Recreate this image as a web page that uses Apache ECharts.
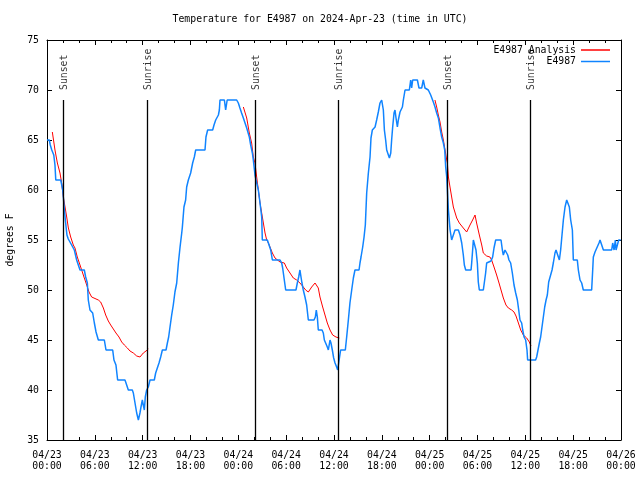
<!DOCTYPE html>
<html>
<head>
<meta charset="utf-8">
<script src="https://cdn.jsdelivr.net/npm/echarts@6/dist/echarts.min.js"></script>
<style>html,body{margin:0;padding:0;background:#fff}#c{width:640px;height:480px}</style>
</head>
<body>
<div id="c"></div>
<script>
// Hours since 2024-04-23 00:00 UTC
const obsHours = [0.00,0.29,0.41,0.60,0.85,1.00,1.10,1.72,1.85,1.97,2.05,2.15,2.30,2.50,2.67,3.09,3.43,3.72,3.93,4.14,4.68,4.85,5.06,5.18,5.39,5.73,5.94,6.15,6.44,7.19,7.40,8.24,8.40,8.65,8.86,9.78,9.91,10.20,10.70,10.83,11.04,11.25,11.46,11.66,11.79,11.96,12.08,12.21,12.33,12.50,12.71,12.92,13.46,13.63,13.84,14.05,14.26,14.47,14.93,15.10,15.26,15.43,15.64,15.84,16.05,16.27,16.48,16.69,16.90,16.98,17.18,17.39,17.52,17.73,18.02,18.27,18.48,18.65,19.82,19.94,20.15,20.78,20.95,21.16,21.50,21.62,21.70,22.25,22.41,22.60,23.79,24.00,24.20,24.41,24.63,24.84,25.05,25.25,25.38,25.55,25.76,25.88,26.09,26.22,26.51,26.72,26.93,27.01,27.64,27.77,27.89,28.06,28.27,29.23,29.44,29.56,29.73,29.94,31.23,31.40,31.57,31.73,31.86,31.98,32.15,32.36,32.57,32.78,33.49,33.66,33.78,33.91,34.03,34.50,34.66,34.79,34.95,35.16,35.29,35.50,35.62,35.79,35.96,36.13,36.33,36.46,36.67,36.83,37.42,37.59,37.80,38.00,38.22,38.43,38.63,39.14,39.26,39.39,39.60,39.77,39.93,40.10,40.31,40.52,40.64,40.81,41.02,41.15,41.35,41.56,41.77,41.98,42.19,42.32,42.48,42.61,42.82,42.95,43.12,43.23,43.36,43.53,43.65,43.78,43.95,44.07,44.28,44.58,44.70,44.91,45.45,45.62,45.74,45.87,46.04,46.46,46.66,47.00,47.20,47.41,47.83,48.13,48.46,48.67,48.88,49.09,49.30,49.51,49.72,49.89,50.01,50.14,50.35,50.56,50.76,50.97,51.18,51.60,51.81,52.02,52.22,52.35,52.52,53.19,53.27,53.39,53.48,53.69,53.81,53.98,54.10,54.23,54.73,54.85,55.02,55.15,55.27,55.69,55.90,56.07,56.28,56.95,57.12,57.24,57.45,57.66,57.79,57.95,58.16,58.37,58.58,58.79,59.00,59.17,59.33,59.54,59.67,59.84,60.04,60.21,60.29,61.29,61.42,61.59,61.76,61.92,62.09,62.26,62.43,62.60,62.76,62.93,63.10,63.35,63.51,63.72,63.85,64.06,64.27,64.43,64.56,64.77,64.98,65.19,65.31,65.52,65.69,65.90,66.02,66.52,66.65,66.86,67.07,67.27,68.32,68.45,68.53,68.74,68.95,69.24,69.37,69.58,69.79,70.83,70.96,71.13,71.29,71.38,71.59,71.71,71.96];
const obsValues = [65.0,65.0,64.5,64.0,63.5,62.5,61.0,61.0,60.5,60.0,59.3,58.3,57.0,55.5,55.1,54.5,54.0,53.0,52.5,52.0,52.0,51.3,50.7,49.0,48.0,47.7,46.7,45.8,45.0,45.0,44.0,44.0,43.0,42.5,41.0,41.0,40.7,40.0,40.0,39.7,38.7,37.7,37.0,37.7,38.3,39.0,38.5,38.0,39.3,40.0,40.3,41.0,41.0,41.7,42.2,42.7,43.3,44.0,44.0,44.7,45.3,46.3,47.5,48.5,49.8,50.7,52.7,54.3,55.7,56.3,58.3,59.0,60.3,61.0,61.7,62.7,63.3,64.0,64.0,65.3,66.0,66.0,66.5,67.0,67.5,68.0,69.0,69.0,68.0,69.0,69.0,68.7,68.2,67.7,67.2,66.7,66.2,66.0,65.3,64.5,63.7,63.0,61.5,61.0,60.0,58.7,57.3,55.0,55.0,54.7,54.6,54.0,53.0,53.0,52.7,52.2,52.0,50.0,50.0,50.7,51.3,52.0,51.3,50.7,50.0,49.3,48.5,47.0,47.0,47.3,48.0,47.3,46.0,46.0,45.7,45.0,44.7,44.3,44.0,45.0,44.7,44.0,43.2,42.7,42.3,42.0,42.0,44.0,44.0,45.3,47.0,48.7,50.0,51.2,52.0,52.0,52.7,53.3,54.3,55.3,56.5,59.7,61.7,63.3,65.2,66.0,66.0,66.3,67.0,67.8,68.7,69.0,68.0,66.0,65.0,64.0,63.5,63.2,63.7,65.0,66.3,67.7,68.0,67.2,66.3,67.0,67.8,68.3,69.0,70.0,70.0,71.0,70.2,71.0,71.0,71.0,70.2,70.2,71.0,70.2,70.0,69.5,68.8,68.3,67.7,67.2,66.2,65.3,64.7,64.0,62.3,61.3,58.0,56.0,55.0,55.5,56.0,56.0,55.5,54.7,53.5,52.5,52.0,52.0,52.7,54.0,55.0,55.0,54.0,52.7,50.8,50.0,50.0,50.7,51.7,52.7,52.9,52.9,53.3,54.2,55.0,55.0,54.0,53.5,54.0,54.0,53.5,53.0,52.7,51.7,50.5,49.7,49.0,48.0,47.0,46.7,46.0,45.3,45.0,44.0,43.0,43.0,43.3,44.0,44.7,45.3,46.3,47.3,48.3,49.0,49.5,50.8,51.0,52.0,52.7,53.7,54.0,53.5,53.0,54.0,54.0,57.0,58.3,59.0,59.1,58.3,57.0,56.0,53.0,53.0,52.0,51.0,50.7,50.0,50.0,52.0,53.3,53.8,54.0,54.7,55.0,54.5,54.0,54.0,54.7,54.0,55.0,54.0,54.0,55.0,55.0];

// Analysis (null = gap)
const anaHours = [0.67,1.00,1.30,1.63,1.84,2.05,2.26,2.47,2.68,2.97,3.30,3.51,3.80,4.14,4.43,4.68,4.98,5.27,5.60,5.81,6.44,6.73,7.07,7.36,7.69,7.99,8.32,8.65,9.03,9.37,9.70,10.08,10.41,10.83,11.25,11.66,12.08,12.42,12.71,
  18.0,
  24.63,25.05,25.38,25.67,25.88,26.09,26.30,26.51,26.72,26.93,27.14,27.35,27.56,27.77,27.97,28.27,28.60,29.23,29.77,30.06,30.48,30.90,31.32,31.73,32.15,32.44,32.78,33.20,33.62,33.82,34.03,34.24,34.58,34.87,35.16,35.50,35.83,36.25,36.67,
  42.0,
  48.66,48.88,49.09,49.30,49.51,49.72,49.93,50.14,50.22,50.35,50.55,50.76,50.97,51.39,51.72,52.22,52.64,53.06,53.39,53.69,53.89,54.23,54.53,54.73,55.15,55.56,55.77,56.07,56.40,56.70,56.95,57.24,57.57,57.87,58.29,58.58,58.83,59.13,59.42,59.75,60.17,60.50,60.71];
const anaValues = [65.8,64.0,62.7,61.7,60.7,59.3,58.3,57.3,56.2,55.3,54.5,54.2,53.3,52.5,51.8,51.2,50.5,49.8,49.3,49.1,49.0,48.8,48.2,47.5,46.9,46.5,46.1,45.7,45.3,44.8,44.5,44.2,43.9,43.7,43.4,43.3,43.7,43.9,44.1,
  null,
  68.3,67.2,65.7,64.7,63.3,62.7,61.3,60.0,58.7,57.7,56.7,55.7,55.0,54.7,54.3,53.7,53.2,52.8,52.7,52.2,51.7,51.2,51.0,50.7,50.3,50.0,49.8,50.3,50.7,50.8,50.2,49.3,48.3,47.5,46.7,46.0,45.5,45.3,45.2,
  null,
  69.0,68.3,67.5,66.8,65.8,65.0,64.0,63.0,62.7,61.3,60.3,59.3,58.3,57.2,56.7,56.2,55.8,56.5,57.0,57.5,56.7,55.5,54.5,53.7,53.4,53.3,53.0,52.3,51.5,50.7,50.0,49.2,48.5,48.2,48.0,47.8,47.4,46.7,46.0,45.5,45.2,44.8,44.4];

const eventNames = ['Sunset','Sunrise','Sunset','Sunrise','Sunset','Sunrise'];
const eventHours = [2.04,12.58,26.13,36.54,50.21,60.62];
const eventLineTop = 69;
const eventLabelAt = 70;

const yTicks = [35,40,45,50,55,60,65,70,75];
const startMonth = '04';
const startDay = 23;

const FONT = 'DejaVu Sans Mono';
const FS = 9.8;

function fmtX(v) {
  const day = startDay + Math.floor(v / 24);
  const h = v % 24;
  return startMonth + '/' + day + '\n' + (h < 10 ? '0' + h : h) + ':00';
}

const obsData = obsHours.map((h, i) => [h, obsValues[i]]);
const anaData = anaHours.map((h, i) => [h, anaValues[i]]);
const eventData = eventHours.map((h, i) => ({ name: eventNames[i], value: [h, eventLabelAt] }));
const eventLines = eventHours.map(h => [{ coord: [h, 35] }, { coord: [h, eventLineTop] }]);

const chart = echarts.init(document.getElementById('c'), null, { renderer: 'canvas' });
const axisCommon = {
  axisLine: { show: true, onZero: false, lineStyle: { color: '#000', width: 1 } },
  splitLine: { show: false }
};
chart.setOption({
  animation: false,
  backgroundColor: '#fff',
  title: {
    text: 'Temperature for E4987 on 2024-Apr-23 (time in UTC)',
    left: 'center', top: 14, padding: 0,
    textStyle: { fontFamily: FONT, fontSize: FS, fontWeight: 'normal', color: '#000' }
  },
  legend: [
    { data: ['E4987 Analysis'], right: 30, top: 45, padding: 0, align: 'right', icon: 'rect',
      itemWidth: 29, itemHeight: 1.5, textStyle: { fontFamily: FONT, fontSize: FS, color: '#000' } },
    { data: ['E4987'], right: 30, top: 56.5, padding: 0, align: 'right', icon: 'rect',
      itemWidth: 29, itemHeight: 1.5, textStyle: { fontFamily: FONT, fontSize: FS, color: '#000' } }
  ],
  grid: { left: 47, right: 19, top: 40, bottom: 40, containLabel: false, outerBoundsMode: 'none' },
  xAxis: [
    Object.assign({}, axisCommon, {
      type: 'value', min: 0, max: 72, interval: 6, position: 'bottom',
      axisTick: { show: true, inside: true, length: 5, lineStyle: { color: '#000' } },
      minorTick: { show: true, splitNumber: 3, length: 3, lineStyle: { color: '#000' } },
      axisLabel: { formatter: fmtX, fontFamily: FONT, fontSize: FS, color: '#000', lineHeight: 11, margin: 10 }
    }),
    Object.assign({}, axisCommon, {
      type: 'value', min: 0, max: 72, interval: 6, position: 'top',
      axisTick: { show: true, inside: true, length: 5, lineStyle: { color: '#000' } },
      minorTick: { show: true, splitNumber: 3, length: 3, lineStyle: { color: '#000' } },
      axisLabel: { show: false }
    })
  ],
  yAxis: [
    Object.assign({}, axisCommon, {
      type: 'value', min: yTicks[0], max: yTicks[yTicks.length - 1], interval: 5, position: 'left',
      name: 'degrees F', nameLocation: 'middle', nameGap: 32, nameRotate: 90,
      nameTextStyle: { fontFamily: FONT, fontSize: FS, color: '#000' },
      axisTick: { show: true, inside: true, length: 5, lineStyle: { color: '#000' } },
      axisLabel: { fontFamily: FONT, fontSize: FS, color: '#000', margin: 8 }
    }),
    Object.assign({}, axisCommon, {
      type: 'value', min: yTicks[0], max: yTicks[yTicks.length - 1], interval: 5, position: 'right',
      axisTick: { show: true, inside: true, length: 5, lineStyle: { color: '#000' } },
      axisLabel: { show: false }
    })
  ],
  series: [
    {
      name: 'Sun', type: 'scatter', data: eventData, symbolSize: 1,
      itemStyle: { color: 'rgba(0,0,0,0)' }, silent: true, z: 1,
      label: { show: true, formatter: '{b}', position: 'inside', rotate: 90, align: 'left', verticalAlign: 'middle',
        offset: [0, 1], fontFamily: FONT, fontSize: FS, color: '#000' },
      markLine: {
        silent: true, symbol: ['none', 'none'], animation: false,
        label: { show: false },
        lineStyle: { color: '#000', width: 1.3, type: 'solid' },
        data: eventLines
      }
    },
    {
      name: 'E4987 Analysis', type: 'line', data: anaData, showSymbol: false, symbol: 'none',
      connectNulls: false, color: '#ff0000', lineStyle: { color: '#ff0000', width: 1 }, z: 2
    },
    {
      name: 'E4987', type: 'line', data: obsData, showSymbol: false, symbol: 'none',
      color: '#1084ff', lineStyle: { color: '#1084ff', width: 1.5 }, z: 3
    }
  ]
});
</script>
</body>
</html>
